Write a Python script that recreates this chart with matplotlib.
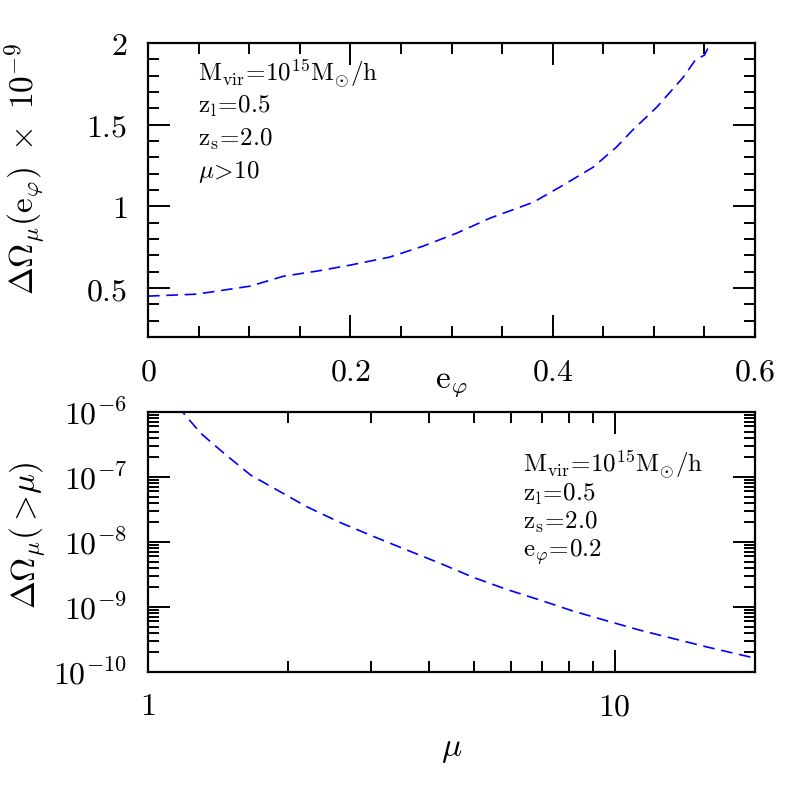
import math
import matplotlib
matplotlib.use("Agg")
import matplotlib.pyplot as plt
from matplotlib.ticker import MultipleLocator, FixedLocator, LogLocator, FuncFormatter, NullFormatter

plt.rcParams['mathtext.fontset'] = 'cm'
plt.rcParams['font.family'] = ['DejaVu Serif']

# top panel: Delta Omega_mu(e_phi) in units of 1e-9, for mu > 10
e_phi = [0.0, 0.048, 0.101, 0.134, 0.167, 0.2, 0.239, 0.272, 0.305, 0.338,
         0.381, 0.407, 0.44, 0.463, 0.479, 0.503, 0.529, 0.541, 0.55, 0.556, 0.562]
domega_e = [0.451, 0.463, 0.512, 0.573, 0.604, 0.641, 0.69, 0.757, 0.836, 0.928,
            1.026, 1.118, 1.24, 1.363, 1.467, 1.608, 1.79, 1.896, 1.926, 2.0, 2.08]

# bottom panel: cumulative cross section above mu, e_phi = 0.2
mu = [1.15, 1.186, 1.298, 1.456, 1.66, 1.92, 2.19, 2.58, 3.05, 3.59, 4.23, 4.98,
      5.87, 6.92, 8.15, 9.6, 11.3, 13.3, 15.7, 19.4, 20.0]
domega_mu = [1.2e-6, 1.0e-6, 4.70e-7, 2.31e-7, 1.07e-7, 5.94e-8, 3.49e-8, 2.0e-8,
             1.21e-8, 7.53e-9, 4.70e-9, 2.86e-9, 1.87e-9, 1.28e-9, 8.67e-10,
             6.17e-10, 4.43e-10, 3.30e-10, 2.45e-10, 1.72e-10, 1.64e-10]

top_text = [r'$\mathrm{M_{vir}\!=\!10^{15}M_{\odot}/h}$',
            r'$\mathrm{z_{l}\!=\!0.5}$',
            r'$\mathrm{z_{s}\!=\!2.0}$',
            r'$\mu\!>\!\mathrm{10}$']
bot_text = [r'$\mathrm{M_{vir}\!=\!10^{15}M_{\odot}/h}$',
            r'$\mathrm{z_{l}\!=\!0.5}$',
            r'$\mathrm{z_{s}\!=\!2.0}$',
            r'$\mathrm{e}_{\varphi}\!=\!\mathrm{0.2}$']

fig = plt.figure(figsize=(7.97, 7.97), dpi=100)
ax1 = fig.add_axes([0.1857, 0.577, 0.7616, 0.369])
ax2 = fig.add_axes([0.1857, 0.1568, 0.7616, 0.3262])

line_kw = dict(color='#0000ff', lw=1.2, dashes=(7, 4))

ax1.plot(e_phi, domega_e, **line_kw)
ax1.set_xlim(0, 0.6)
ax1.set_ylim(0.2, 2.0)
ax1.xaxis.set_major_locator(MultipleLocator(0.2))
ax1.xaxis.set_minor_locator(MultipleLocator(0.05))
ax1.yaxis.set_major_locator(MultipleLocator(0.5))
ax1.yaxis.set_minor_locator(MultipleLocator(0.1))
ax1.xaxis.set_major_formatter(FuncFormatter(lambda v, p: r'$%g$' % round(v, 2)))
ax1.yaxis.set_major_formatter(FuncFormatter(lambda v, p: r'$%g$' % round(v, 2)))
ax1.set_xlabel(r'$\mathrm{e}_{\varphi}$', fontsize=24)
ax1.xaxis.set_label_coords(0.5, -0.1)
ax1.set_ylabel(r'$\Delta\Omega_{\mu}(\mathrm{e}_{\varphi})\ \times\ 10^{-9}$', fontsize=24)
ax1.yaxis.set_label_coords(-0.165, 0.57)

ax2.plot(mu, domega_mu, **line_kw)
ax2.set_xscale('log')
ax2.set_yscale('log')
ax2.set_xlim(1, 20)
ax2.set_ylim(1e-10, 1e-6)
ax2.xaxis.set_major_locator(FixedLocator([1, 10]))
ax2.xaxis.set_minor_locator(LogLocator(base=10, subs=range(2, 10), numticks=20))
ax2.xaxis.set_minor_formatter(NullFormatter())
ax2.xaxis.set_major_formatter(FuncFormatter(lambda v, p: r'$%d$' % round(v)))
ax2.yaxis.set_major_locator(FixedLocator([1e-10, 1e-9, 1e-8, 1e-7, 1e-6]))
ax2.yaxis.set_minor_locator(LogLocator(base=10, subs=range(2, 10), numticks=20))
ax2.yaxis.set_minor_formatter(NullFormatter())
ax2.yaxis.set_major_formatter(FuncFormatter(lambda v, p: r'$10^{%d}$' % round(math.log10(v))))
ax2.set_xlabel(r'$\mu$', fontsize=24)
ax2.xaxis.set_label_coords(0.5, -0.235)
ax2.set_ylabel(r'$\Delta\Omega_{\mu}(>\!\mu)$', fontsize=24)
ax2.yaxis.set_label_coords(-0.165, 0.525)

for ax in (ax1, ax2):
    for sp in ax.spines.values():
        sp.set_linewidth(1.6)
    ax.tick_params(which='both', direction='in', top=True, right=True, labelsize=23)
    ax.tick_params(which='major', length=16, width=1.4)
    ax.tick_params(which='minor', length=8, width=1.4)
    ax.tick_params(axis='x', which='major', pad=14)
    ax.tick_params(axis='y', which='major', pad=15)

y_top = [0.867, 0.762, 0.650, 0.541]
for s, y in zip(top_text, y_top):
    ax1.text(0.082, y, s, transform=ax1.transAxes, fontsize=18, va='baseline')

y_bot = [0.766, 0.659, 0.552, 0.444]
for s, y in zip(bot_text, y_bot):
    ax2.text(0.618, y, s, transform=ax2.transAxes, fontsize=18, va='baseline')

fig.savefig('out.png', dpi=100)
